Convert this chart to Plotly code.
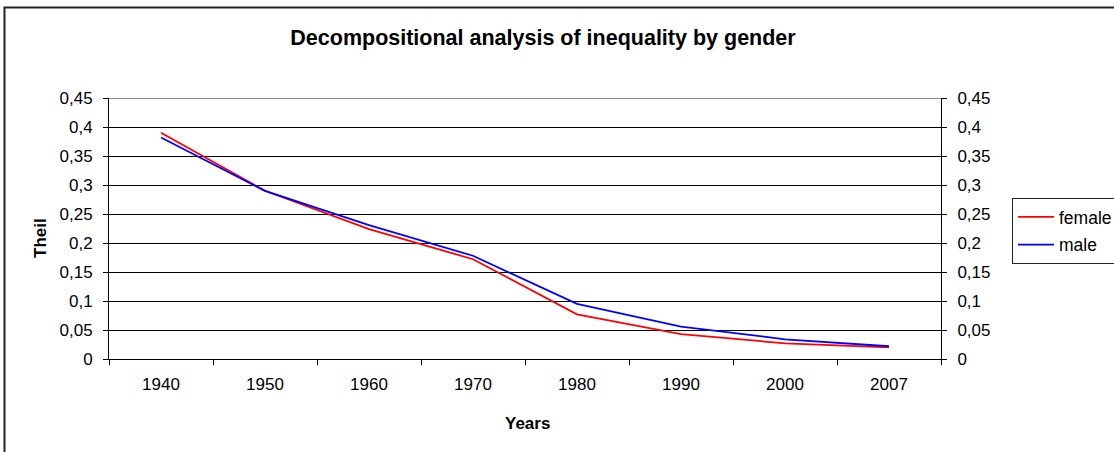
import plotly.graph_objects as go

# Theil index of inequality, by gender
years = ["1940", "1950", "1960", "1970", "1980", "1990", "2000", "2007"]
female = [0.390, 0.290, 0.224, 0.172, 0.077, 0.043, 0.027, 0.020]
male = [0.382, 0.290, 0.231, 0.178, 0.095, 0.056, 0.034, 0.022]
y_ticks = [0, 0.05, 0.1, 0.15, 0.2, 0.25, 0.3, 0.35, 0.4, 0.45]

FONT = "Liberation Sans, Arial, sans-serif"
W, H = 1114, 452
L, R, T, B = 109, 173, 98, 93
PW, PH = W - L - R, H - T - B


def px_x(x):
    return (x - L) / PW


def px_y(y):
    return (H - B - y) / PH


fig = go.Figure()
fig.add_trace(go.Scatter(x=years, y=female, name="female", mode="lines",
                         line=dict(color="#ff0000", width=1.8),
                         legendgroup="f"))
fig.add_trace(go.Scatter(x=years, y=male, name="male", mode="lines",
                         line=dict(color="#0000ff", width=1.8),
                         legendgroup="m"))
# invisible trace to carry the mirrored right-hand axis
fig.add_trace(go.Scatter(x=years, y=male, yaxis="y2", mode="lines",
                         line=dict(width=0), showlegend=False,
                         hoverinfo="skip", opacity=0))

axis_font = dict(family=FONT, size=17, color="#000")

fig.update_layout(
    width=W, height=H,
    margin=dict(l=L, r=R, t=T, b=B, autoexpand=False),
    paper_bgcolor="#fff", plot_bgcolor="#fff",
    separators=",.",
    font=dict(family=FONT, color="#000"),
    showlegend=True,
    title=dict(text="<b>Decompositional analysis of inequality by gender</b>",
               font=dict(family=FONT, size=21.5, color="#000"),
               xref="paper", x=px_x(543), xanchor="center",
               yref="container", y=1 - 37 / H, yanchor="middle"),
    xaxis=dict(type="category", range=[-0.5, len(years) - 0.5],
               tickson="boundaries", ticks="outside",
               ticklen=5, tickcolor="#000", showline=True, linecolor="#000",
               linewidth=1, showgrid=False, tickfont=axis_font,
               ticklabelstandoff=10, zeroline=False),
    yaxis=dict(range=[0, 0.45], tickvals=y_ticks, ticks="outside",
               ticklen=5, tickcolor="#000", showline=True, linecolor="#000",
               linewidth=1, showgrid=True, gridcolor="#000", gridwidth=1,
               tickfont=axis_font, ticklabelstandoff=7, zeroline=False),
    yaxis2=dict(range=[0, 0.45], tickvals=y_ticks, ticks="outside",
                ticklen=5, tickcolor="#000", showline=True, linecolor="#000",
                linewidth=1, showgrid=False, overlaying="y", side="right",
                tickfont=axis_font, ticklabelstandoff=7, zeroline=False),
    legend=dict(x=px_x(1012), y=px_y(198), xanchor="left", yanchor="top",
                bordercolor="#222", borderwidth=1, bgcolor="#fff",
                font=dict(family=FONT, size=17.5, color="#000"),
                itemwidth=36,
                traceorder="grouped", tracegroupgap=2),
    annotations=[
        dict(text="<b>Theil</b>", xref="paper", yref="paper",
             x=px_x(40), y=px_y(238), textangle=-90, showarrow=False,
             font=dict(family=FONT, size=17, color="#000"),
             xanchor="center", yanchor="middle"),
        dict(text="<b>Years</b>", xref="paper", yref="paper",
             x=px_x(527), y=px_y(423), showarrow=False,
             font=dict(family=FONT, size=17, color="#000"),
             xanchor="center", yanchor="middle"),
    ],
    shapes=[
        # gridline along the top of the value range
        dict(type="line", xref="paper", yref="y", x0=0, x1=1,
             y0=y_ticks[-1], y1=y_ticks[-1],
             line=dict(color="#666", width=1.5), layer="below"),
        # outer chart frame
        dict(type="rect", xref="paper", yref="paper",
             x0=px_x(4.5), x1=px_x(1130), y0=px_y(470), y1=px_y(7.5),
             line=dict(color="#222", width=2), fillcolor="rgba(0,0,0,0)",
             layer="above"),
    ],
)

fig.write_html("out.html")
